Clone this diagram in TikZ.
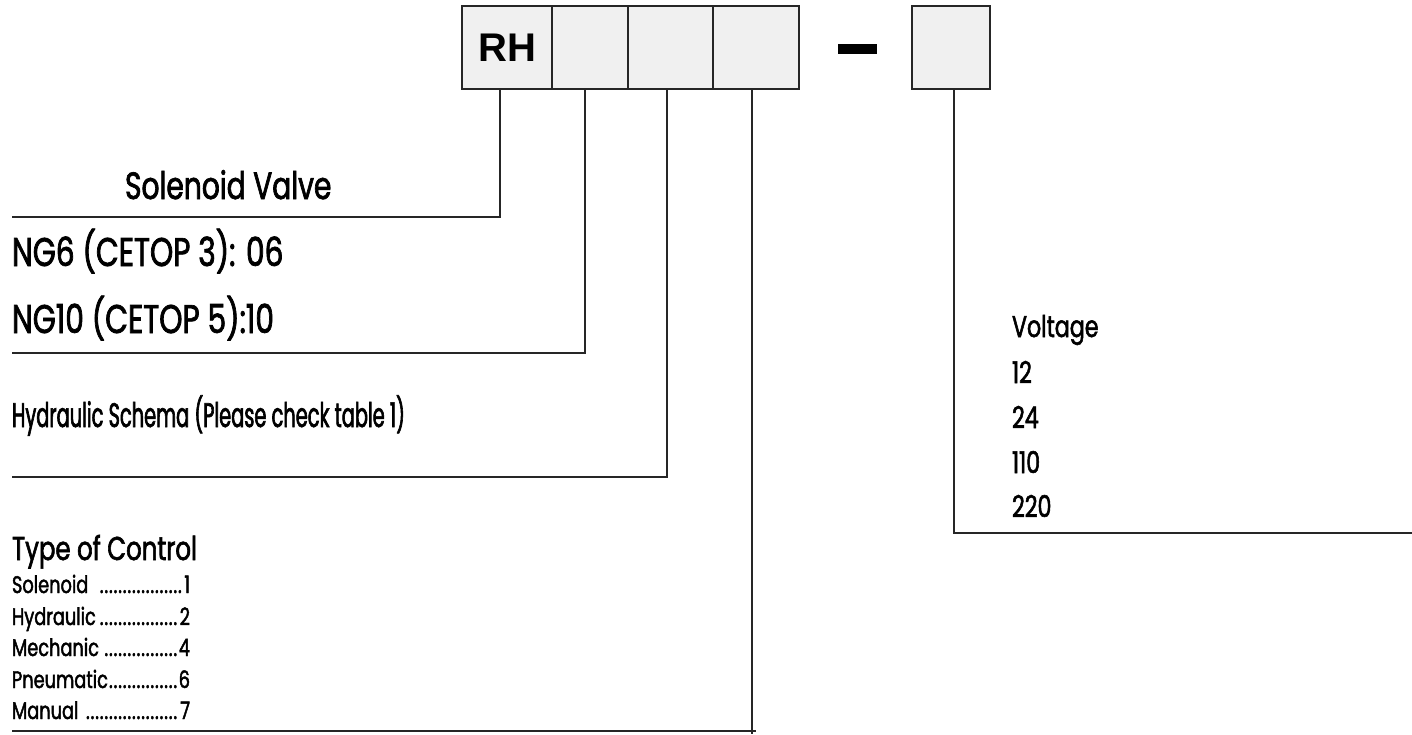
\documentclass[tikz,border=0pt]{standalone}
\usepackage{fontspec}
\newfontfamily\condfont[FakeStretch=0.74, FakeBold=1.8]{Poppins}
\newfontfamily\narrowfont[FakeStretch=0.57, FakeBold=1.8]{Poppins}
\newfontfamily\codefont{Liberation Sans}
\usetikzlibrary{positioning}

% leader row of the control list
\newcommand{\ctrlrow}[3][0pt]{\makebox[178pt][l]{#2\hspace{#1}\leaders\hbox to 4.6pt{\hss.\hss}\hfill#3}}

\begin{document}
\begin{tikzpicture}[x=1pt,y=-1pt,
  cell/.style={draw=black!85, line width=2.4pt, fill=gray!12, minimum height=83pt, inner sep=0pt, outer sep=0pt},
  lead/.style={draw=black!85, line width=2.8pt},
  txtbase/.style={anchor=base west, inner sep=0pt, outer sep=0pt},
  bigtxt/.style={txtbase, font=\condfont\fontsize{38}{42}\selectfont},
  midtxt/.style={txtbase, font=\condfont\fontsize{30}{34}\selectfont},
  smalltxt/.style={txtbase, font=\condfont\fontsize{24}{28}\selectfont}
]
\useasboundingbox (0,0) rectangle (1412,734);

% Code cells
\node[cell, minimum width=90pt, font=\codefont\bfseries\fontsize{40}{44}\selectfont] (rh) at (507,47.5) {RH};
\node[cell, minimum width=76pt, right=0pt of rh] (size) {};
\node[cell, minimum width=85pt, right=0pt of size] (schema) {};
\node[cell, minimum width=86pt, right=0pt of schema] (ctrl) {};
\node[fill=black, minimum width=39pt, minimum height=10pt, inner sep=0pt] (dash) at (857.5,49) {};
\node[cell, minimum width=78pt] (volt) at (951,47.5) {};

% Labels
\node[bigtxt] (valve) at (125,199) {Solenoid Valve};
\node[bigtxt, font=\condfont\fontsize{40}{44}\selectfont] (ng6) at (12,266) {NG6 (CETOP 3): 06};
\node[bigtxt, font=\condfont\fontsize{40}{44}\selectfont] (ng10) at (12,333) {NG10 (CETOP 5):10};
\node[midtxt, font=\narrowfont\fontsize{34}{38}\selectfont] (hyd) at (12,427) {Hydraulic Schema (Please check table 1)};
\node[midtxt, font=\condfont\fontsize{33}{36}\selectfont] (type) at (12,560) {Type of Control};
\node[smalltxt] (t1) at (12,593) {\ctrlrow[8pt]{Solenoid}{1}};
\node[smalltxt] (t2) at (12,625) {\ctrlrow{Hydraulic}{2}};
\node[smalltxt] (t4) at (12,656) {\ctrlrow[5pt]{Mechanic}{4}};
\node[smalltxt] (t6) at (12,688) {\ctrlrow{Pneumatic}{6}};
\node[smalltxt] (t7) at (12,719) {\ctrlrow[4pt]{Manual}{7}};
\node[midtxt] (vtitle) at (1012,337) {Voltage};
\node[midtxt] (v12) at (1012,383) {12};
\node[midtxt] (v24) at (1012,428) {24};
\node[midtxt] (v110) at (1012,473) {110};
\node[midtxt] (v220) at (1012,517) {220};

% Lead ends
\coordinate (valveend) at (12,217);
\coordinate (sizeend) at (12,353);
\coordinate (schemaend) at (12,477);
\coordinate (ctrlend) at (12,731);
\coordinate (voltend) at (1412,533);

% Leads
\draw[lead] ([xshift=-7pt]rh.south) |- (valveend);
\draw[lead] ([xshift=-5pt]size.south) |- (sizeend);
\draw[lead] ([xshift=-3.5pt]schema.south) |- (schemaend);
\draw[lead] ([xshift=-4pt]ctrl.south) -- ++(0,645);
\draw[lead] (ctrlend) -- (ctrlend -| ctrl.south);
\draw[lead] ([xshift=3pt]volt.south) |- (voltend);

\end{tikzpicture}
\end{document}
